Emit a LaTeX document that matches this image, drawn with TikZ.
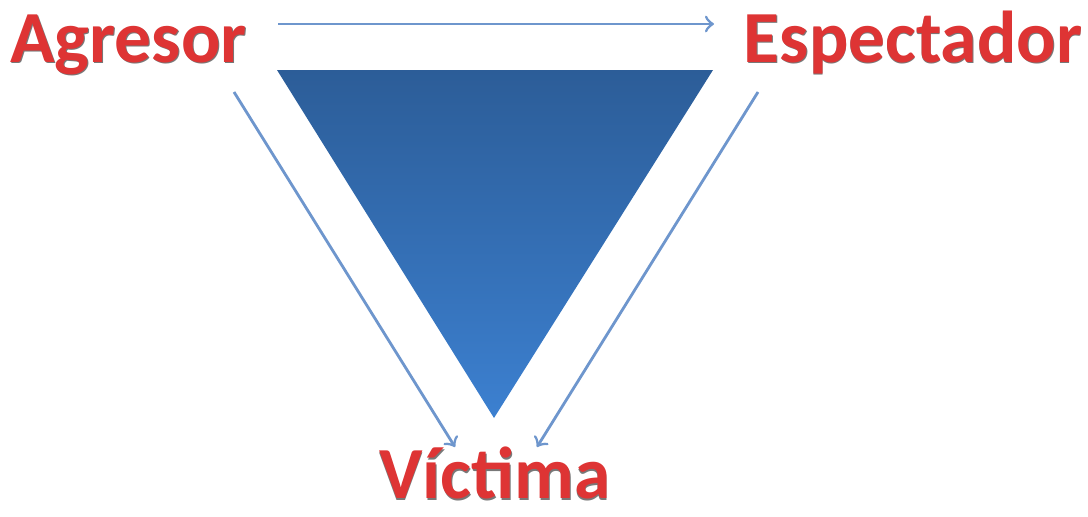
\documentclass[tikz,border=0pt]{standalone}
\usepackage{fontspec}
\setmainfont{Carlito}
\usepackage{tikz}
\definecolor{tred}{RGB}{222,52,52}
\definecolor{tshadow}{RGB}{120,120,120}
\definecolor{tarrow}{RGB}{110,150,205}
\definecolor{ttop}{RGB}{44,93,152}
\definecolor{tbottom}{RGB}{60,128,208}

\begin{document}
\begin{tikzpicture}[
    role/.style={font=\fontsize{20.9}{24}\selectfont\bfseries, text=tred, inner sep=0pt, text depth=0pt, anchor=base},
    roleshadow/.style={role, text=tshadow},
    conn/.style={->, draw=tarrow, line width=0.8pt}
  ]
        \useasboundingbox (0,0) rectangle (10.88,5.16);

        % Triangle
        \shade[top color=ttop, bottom color=tbottom] (2.77,4.46) -- (7.13,4.46) -- (4.94,0.98) -- cycle;

        % Roles
        \node[roleshadow] at (1.295,4.525) {Agresor};
        \node[roleshadow] at (9.135,4.525) {Espectador};
        \node[roleshadow] at (4.955,0.16) {Víctima};
        \node[role] (A) at (1.285,4.54) {Agresor};
        \node[role] (E) at (9.13,4.54) {Espectador};
        \node[role] (V) at (4.95,0.175) {Víctima};

        % Arrow ends
        \coordinate (A1) at (2.78,4.92);
        \coordinate (A2) at (2.34,4.24);
        \coordinate (E1) at (7.14,4.92);
        \coordinate (E2) at (7.58,4.24);
        \coordinate (V1) at (4.55,0.69);
        \coordinate (V2) at (5.37,0.69);

        % Directed edges
        \draw[conn] (A1) -- (E1);
        \draw[conn] (A2) -- (V1);
        \draw[conn] (E2) -- (V2);
    \end{tikzpicture}
\end{document}
